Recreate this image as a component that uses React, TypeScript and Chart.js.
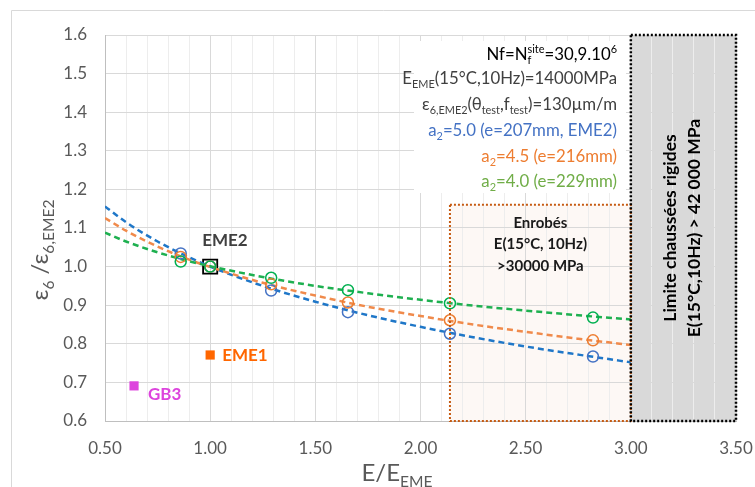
import React, { useEffect, useRef } from 'react';
import { Chart, registerables } from 'chart.js';
Chart.register(...registerables);

// Trend curves
const curveX = [0.5, 0.6, 0.75, 0.9, 1.0, 1.25, 1.5, 1.75, 2.0, 2.25, 2.5, 2.75, 3.0];
const curveA5 = [1.156, 1.115, 1.065, 1.024, 1.0, 0.95, 0.909, 0.874, 0.844, 0.817, 0.793, 0.772, 0.752];
const curveA45 = [1.126, 1.093, 1.052, 1.018, 0.999, 0.958, 0.925, 0.896, 0.872, 0.85, 0.831, 0.813, 0.797];
const curveA4 = [1.088, 1.065, 1.037, 1.014, 1.001, 0.973, 0.95, 0.931, 0.914, 0.899, 0.886, 0.874, 0.863];

// Computed points
const pointX = [0.86, 1.0, 1.29, 1.655, 2.14, 2.82];
const pointsA5 = [1.034, 1.0, 0.938, 0.882, 0.826, 0.767];
const pointsA45 = [1.025, 1.0, 0.954, 0.907, 0.861, 0.809];
const pointsA4 = [1.013, 1.0, 0.971, 0.939, 0.905, 0.868];

// Named materials
const materialNames = ['EME2', 'EME1', 'GB3'];
const materialX = [1.0, 1.0, 0.638];
const materialY = [1.0, 0.771, 0.691];

// Zones
const enrobesZone = [2.14, 3.0, 0.6, 1.16];
const rigidZone = [3.0, 3.5, 0.6, 1.6];

const xMin = 0.5, xMax = 3.5, yMin = 0.6, yMax = 1.6;

const FONT = 'Lato, "Open Sans", sans-serif';

type Run = { t: string; m?: 'sub' | 'sup' | 'subsup'; t2?: string };

function runsWidth(ctx: CanvasRenderingContext2D, runs: Run[], size: number, weight: string) {
  let w = 0;
  for (const r of runs) {
    if (!r.m) {
      ctx.font = `${weight} ${size}px ${FONT}`;
      w += ctx.measureText(r.t).width;
    } else {
      ctx.font = `${weight} ${size * 0.65}px ${FONT}`;
      if (r.m === 'subsup') {
        w += Math.max(ctx.measureText(r.t).width, ctx.measureText(r.t2 || '').width);
      } else w += ctx.measureText(r.t).width;
    }
  }
  return w;
}

function drawRuns(
  ctx: CanvasRenderingContext2D,
  runs: Run[],
  x: number,
  y: number,
  size: number,
  color: string,
  align: 'left' | 'right' | 'center',
  weight = 'normal'
) {
  const w = runsWidth(ctx, runs, size, weight);
  let cx = align === 'left' ? x : align === 'right' ? x - w : x - w / 2;
  ctx.save();
  ctx.fillStyle = color;
  ctx.textBaseline = 'alphabetic';
  ctx.textAlign = 'left';
  const base = y + size * 0.35;
  for (const r of runs) {
    if (!r.m) {
      ctx.font = `${weight} ${size}px ${FONT}`;
      ctx.fillText(r.t, cx, base);
      cx += ctx.measureText(r.t).width;
    } else {
      ctx.font = `${weight} ${size * 0.65}px ${FONT}`;
      if (r.m === 'sub') {
        ctx.fillText(r.t, cx, base + size * 0.22);
        cx += ctx.measureText(r.t).width;
      } else if (r.m === 'sup') {
        ctx.fillText(r.t, cx, base - size * 0.38);
        cx += ctx.measureText(r.t).width;
      } else {
        ctx.fillText(r.t, cx, base + size * 0.22);
        ctx.fillText(r.t2 || '', cx, base - size * 0.38);
        cx += Math.max(ctx.measureText(r.t).width, ctx.measureText(r.t2 || '').width);
      }
    }
  }
  ctx.restore();
}

const decorPlugin = {
  id: 'decor',
  beforeDraw(chart: any) {
    const ctx: CanvasRenderingContext2D = chart.ctx;
    const xs = chart.scales.x, ys = chart.scales.y;
    ctx.save();
    let x0 = xs.getPixelForValue(enrobesZone[0]), x1 = xs.getPixelForValue(enrobesZone[1]);
    let y0 = ys.getPixelForValue(enrobesZone[3]), y1 = ys.getPixelForValue(enrobesZone[2]);
    ctx.fillStyle = '#FDF8F5';
    ctx.fillRect(x0, y0, x1 - x0, y1 - y0);
    x0 = xs.getPixelForValue(rigidZone[0]); x1 = xs.getPixelForValue(rigidZone[1]);
    y0 = ys.getPixelForValue(rigidZone[3]); y1 = ys.getPixelForValue(rigidZone[2]);
    ctx.fillStyle = '#D9D9D9';
    ctx.fillRect(x0, y0, x1 - x0, y1 - y0);
    ctx.restore();
  },
  beforeDatasetsDraw(chart: any) {
    const ctx: CanvasRenderingContext2D = chart.ctx;
    ctx.save();
    ctx.fillStyle = '#FFFFFF';
    ctx.fillRect(414, 41, 212, 152);
    ctx.restore();
  },
  afterDraw(chart: any) {
    const ctx: CanvasRenderingContext2D = chart.ctx;
    const xs = chart.scales.x, ys = chart.scales.y;
    ctx.save();
    // outer frame
    ctx.strokeStyle = '#D9D9D9';
    ctx.lineWidth = 1;
    ctx.beginPath();
    ctx.moveTo(11.5, 490);
    ctx.lineTo(11.5, 10.5);
    ctx.lineTo(760, 10.5);
    ctx.stroke();

    // enrobés border
    let x0 = xs.getPixelForValue(enrobesZone[0]), x1 = xs.getPixelForValue(enrobesZone[1]);
    let y0 = ys.getPixelForValue(enrobesZone[3]), y1 = ys.getPixelForValue(enrobesZone[2]);
    ctx.setLineDash([2, 2]);
    ctx.lineWidth = 2;
    ctx.strokeStyle = '#C55A11';
    ctx.strokeRect(x0, y0, x1 - x0, y1 - y0);
    const ecx = (x0 + x1) / 2;
    ctx.setLineDash([]);
    ctx.fillStyle = '#1A1A1A';
    ctx.font = `bold 15px ${FONT}`;
    ctx.textAlign = 'center';
    ctx.textBaseline = 'middle';
    ctx.fillText('Enrobés', ecx, y0 + 18);
    ctx.fillText('E(15°C, 10Hz)', ecx, y0 + 39);
    ctx.fillText('>30000 MPa', ecx, y0 + 61);

    // rigid border
    x0 = xs.getPixelForValue(rigidZone[0]); x1 = xs.getPixelForValue(rigidZone[1]);
    y0 = ys.getPixelForValue(rigidZone[3]); y1 = ys.getPixelForValue(rigidZone[2]);
    ctx.setLineDash([2, 2]);
    ctx.lineWidth = 2.5;
    ctx.strokeStyle = '#000000';
    ctx.strokeRect(x0, y0, x1 - x0, y1 - y0);
    ctx.setLineDash([]);
    ctx.save();
    ctx.translate(x0 + 52, (y0 + y1) / 2);
    ctx.rotate(-Math.PI / 2);
    ctx.fillStyle = '#000000';
    ctx.font = `bold 17.5px ${FONT}`;
    ctx.textAlign = 'center';
    ctx.textBaseline = 'middle';
    ctx.fillText('Limite chaussées rigides', 0, -12);
    ctx.fillText('E(15°C,10Hz) > 42 000 MPa', 0, 12);
    ctx.restore();

    // material labels
    const p = (i: number) => [xs.getPixelForValue(materialX[i]), ys.getPixelForValue(materialY[i])];
    ctx.font = `bold 17px ${FONT}`;
    ctx.textBaseline = 'middle';
    let [px, py] = p(0);
    ctx.fillStyle = '#404040';
    ctx.textAlign = 'left';
    ctx.fillText(materialNames[0], px - 8, py - 26);
    [px, py] = p(1);
    ctx.fillStyle = '#FF6600';
    ctx.fillText(materialNames[1], px + 12, py + 1);
    [px, py] = p(2);
    ctx.fillStyle = '#DD44DD';
    ctx.fillText(materialNames[2], px + 14, py + 9);

    // legend text block
    const lx = 617;
    const ls = 16.8;
    drawRuns(ctx, [{ t: 'Nf=N' }, { t: 'f', m: 'subsup', t2: 'site' }, { t: '=30,9.10' }, { t: '6', m: 'sup' }], lx, 54, ls, '#000000', 'right');
    drawRuns(ctx, [{ t: 'E' }, { t: 'EME', m: 'sub' }, { t: '(15°C,10Hz)=14000MPa' }], lx, 78, ls, '#404040', 'right');
    drawRuns(ctx, [{ t: 'ε' }, { t: '6,EME2', m: 'sub' }, { t: '(θ' }, { t: 'test', m: 'sub' }, { t: ',f' }, { t: 'test', m: 'sub' }, { t: ')=130µm/m' }], lx, 104, ls, '#404040', 'right');
    drawRuns(ctx, [{ t: 'a' }, { t: '2', m: 'sub' }, { t: '=5.0 (e=207mm, EME2)' }], lx, 130, ls, '#4472C4', 'right');
    drawRuns(ctx, [{ t: 'a' }, { t: '2', m: 'sub' }, { t: '=4.5 (e=216mm)' }], lx, 156, ls, '#ED7D31', 'right');
    drawRuns(ctx, [{ t: 'a' }, { t: '2', m: 'sub' }, { t: '=4.0 (e=229mm)' }], lx, 181, ls, '#70AD47', 'right');

    // axis titles
    drawRuns(ctx, [{ t: 'E/E' }, { t: 'EME', m: 'sub' }], 397, 473, 24, '#595959', 'center');
    ctx.save();
    ctx.translate(40, 250);
    ctx.rotate(-Math.PI / 2);
    drawRuns(ctx, [{ t: 'ε' }, { t: '6', m: 'sub' }, { t: ' /ε' }, { t: '6,EME2', m: 'sub' }], 0, 0, 24, '#595959', 'center');
    ctx.restore();
    ctx.restore();
  },
};

const mk = (xs: number[], ys: number[]) => xs.map((x, i) => ({ x, y: ys[i] }));

export default function App() {
  const ref = useRef<HTMLCanvasElement>(null);
  useEffect(() => {
    if (!ref.current) return;
    const lineDs = (data: number[], color: string) => ({
      type: 'line' as const,
      data: mk(curveX, data),
      borderColor: color,
      borderWidth: 2.5,
      borderDash: [6, 4],
      pointRadius: 0,
      cubicInterpolationMode: 'monotone' as const,
      fill: false,
    });
    const ptDs = (data: number[], color: string) => ({
      type: 'scatter' as const,
      data: mk(pointX, data),
      borderColor: color,
      backgroundColor: 'rgba(0,0,0,0)',
      borderWidth: 1.5,
      pointRadius: 5.5,
      pointStyle: 'circle',
      showLine: false,
    });
    const chart = new Chart(ref.current, {
      type: 'scatter',
      data: {
        datasets: [
          ptDs(pointsA4, '#00B050'),
          ptDs(pointsA45, '#ED7D31'),
          ptDs(pointsA5, '#4472C4'),
          lineDs(curveA4, '#1EB050'),
          lineDs(curveA45, '#F08A4B'),
          lineDs(curveA5, '#1F77C8'),
          {
            type: 'scatter',
            data: [{ x: materialX[1], y: materialY[1] }],
            pointStyle: 'rect',
            pointRadius: 6.5,
            backgroundColor: '#FF6600',
            borderColor: '#FF6600',
            borderWidth: 0,
          },
          {
            type: 'scatter',
            data: [{ x: materialX[2], y: materialY[2] }],
            pointStyle: 'rect',
            pointRadius: 6.5,
            backgroundColor: '#DD44DD',
            borderColor: '#DD44DD',
            borderWidth: 0,
          },
          {
            type: 'scatter',
            data: [{ x: materialX[0], y: materialY[0] }],
            pointStyle: 'rect',
            pointRadius: 10,
            backgroundColor: 'rgba(0,0,0,0)',
            borderColor: '#000000',
            borderWidth: 1.8,
          },
        ] as any,
      },
      options: {
        responsive: false,
        animation: false,
        events: [],
        layout: { padding: { top: 35, right: 19, left: 0, bottom: 0 } },
        plugins: { legend: { display: false }, tooltip: { enabled: false } },
        scales: {
          x: {
            type: 'linear',
            min: xMin,
            max: xMax,
            afterFit: (s: any) => { s.height = 66; s.paddingLeft = 0; s.paddingRight = 0; },
            border: { display: true, color: '#BFBFBF', width: 1 },
            grid: {
              drawTicks: false,
              color: (c: any) => {
                const v = c.tick ? c.tick.value : 0;
                return Math.abs(v * 2 - Math.round(v * 2)) < 1e-6 ? '#D9D9D9' : '#EDEDED';
              },
            },
            ticks: {
              stepSize: 0.1,
              autoSkip: false,
              maxRotation: 0,
              padding: 17,
              color: '#595959',
              font: { family: FONT, size: 17 },
              callback: (v: any) => {
                const n = Number(v);
                return Math.abs(n * 2 - Math.round(n * 2)) < 1e-6 ? n.toFixed(2) : '';
              },
            },
          },
          y: {
            type: 'linear',
            min: yMin,
            max: yMax,
            afterFit: (s: any) => { s.width = 105; s.paddingTop = 0; s.paddingBottom = 0; },
            border: { display: true, color: '#BFBFBF', width: 1 },
            grid: { drawTicks: false, color: '#D9D9D9' },
            ticks: {
              stepSize: 0.1,
              padding: 18,
              color: '#595959',
              font: { family: FONT, size: 17 },
              callback: (v: any) => Number(v).toFixed(1),
            },
          },
        },
      },
      plugins: [decorPlugin],
    });
    return () => chart.destroy();
  }, []);
  return (
    <div style={{ position: 'absolute', left: 0, top: 0, width: 755, height: 487, background: '#fff' }}>
      <canvas ref={ref} width={755} height={487} style={{ display: 'block' }} />
    </div>
  );
}
